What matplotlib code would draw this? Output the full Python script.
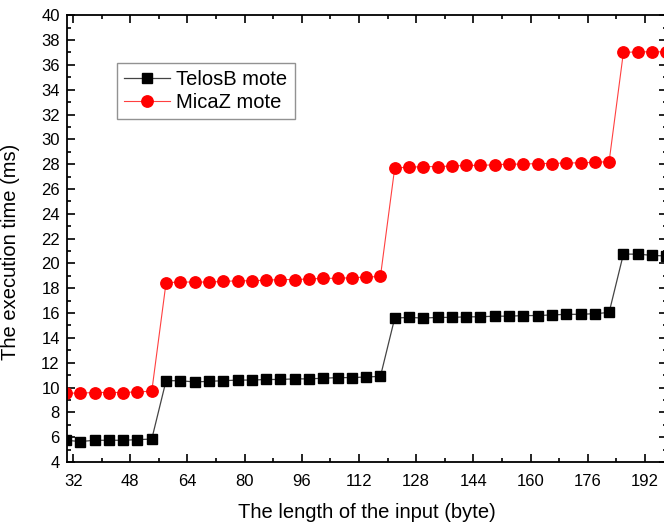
import matplotlib
matplotlib.use("Agg")
from matplotlib import pyplot as plt
from matplotlib.ticker import MultipleLocator
import numpy as np

plt.rcParams['font.family'] = ['Liberation Sans', 'DejaVu Sans']

# input length (byte), one point every 4 bytes
lengths = list(range(30, 199, 4))

telosb = [5.75, 5.65, 5.75, 5.75, 5.75, 5.8, 5.85,
          10.55, 10.55, 10.45, 10.5, 10.55, 10.6, 10.6, 10.65,
          10.65, 10.7, 10.7, 10.75, 10.8, 10.8, 10.85, 10.9,
          15.6, 15.65, 15.6, 15.65, 15.65, 15.7, 15.7, 15.75,
          15.75, 15.8, 15.8, 15.85, 15.9, 15.9, 15.95, 16.05,
          20.75, 20.75, 20.65, 20.6]

micaz = [9.55, 9.55, 9.6, 9.6, 9.6, 9.65, 9.7,
         18.45, 18.5, 18.5, 18.5, 18.55, 18.6, 18.6, 18.65,
         18.7, 18.7, 18.75, 18.8, 18.8, 18.85, 18.9, 18.95,
         27.7, 27.75, 27.8, 27.8, 27.85, 27.9, 27.9, 27.95,
         28.0, 28.0, 28.05, 28.05, 28.1, 28.1, 28.15, 28.2,
         37.0, 37.05, 37.05, 37.05]

x_ticks = list(range(32, 193, 16))

fig = plt.figure(figsize=(6.64, 5.25), dpi=100)
ax = fig.add_axes([0.1005, 0.12, 0.904, 0.851])

ax.plot(lengths, telosb, color='#444444', lw=0.9, marker='s', ms=7.3,
        mfc='black', mec='black', label='TelosB mote')
ax.plot(lengths, micaz, color='#ff4040', lw=0.8, marker='o', ms=8.2,
        mfc='#ff0000', mec='#ff0000', label='MicaZ mote')

ax.set_xlim(30.2, 198.2)
ax.set_ylim(4, 40)
ax.set_xticks(x_ticks)
ax.xaxis.set_minor_locator(MultipleLocator(8))
ax.yaxis.set_major_locator(MultipleLocator(2))
ax.yaxis.set_minor_locator(MultipleLocator(1))
ax.tick_params(which='both', direction='in', top=True, right=True, width=1.2)
ax.tick_params(which='major', length=6, labelsize=12)
ax.tick_params(axis='x', which='major', pad=9)
ax.tick_params(axis='y', which='major', pad=5)
ax.tick_params(which='minor', length=3)
for sp in ax.spines.values():
    sp.set_linewidth(1.3)

ax.set_xlabel('The length of the input (byte)', fontsize=14.5, labelpad=10)
ax.set_ylabel('The execution time (ms)', fontsize=14.5, labelpad=5)
ax.yaxis.set_label_coords(-0.078, 0.47)

leg = ax.legend(loc='upper left', bbox_to_anchor=(0.0838, 0.8926), fontsize=14.5,
                frameon=True, fancybox=False, edgecolor='#777777',
                handlelength=2.3, borderpad=0.35, labelspacing=0.18,
                handletextpad=0.3, borderaxespad=0)
leg.get_frame().set_linewidth(1.0)

fig.savefig('out.png', dpi=100)
